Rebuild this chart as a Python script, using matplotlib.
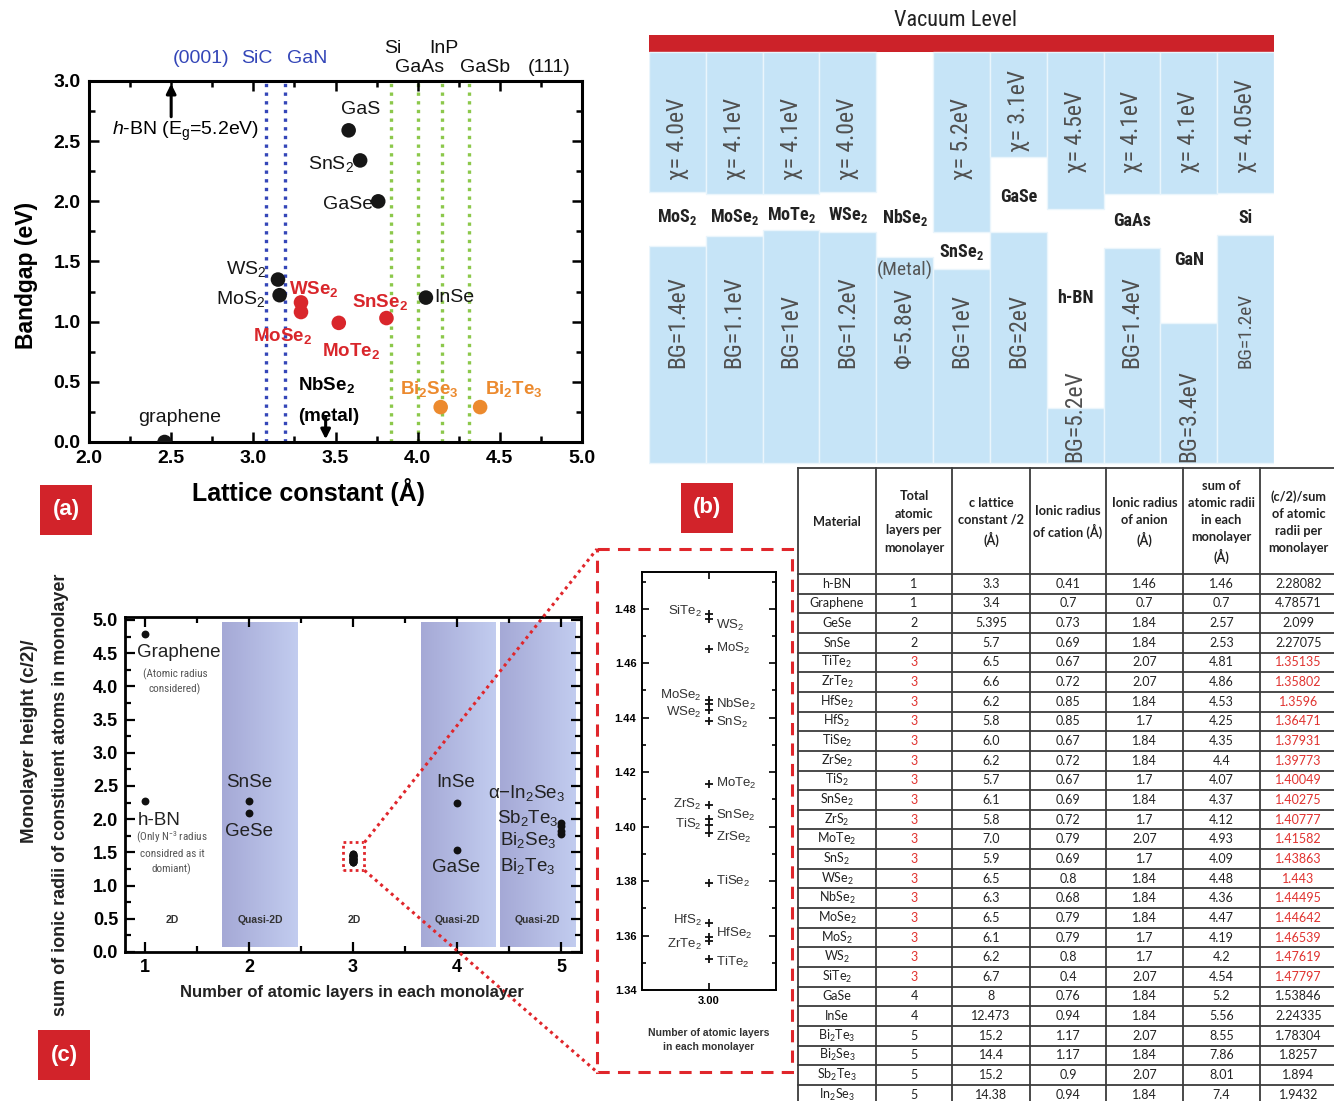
import numpy as np
import matplotlib
matplotlib.use('Agg')
import matplotlib.pyplot as plt
from matplotlib import font_manager
from matplotlib.patches import Rectangle
from matplotlib.colors import LinearSegmentedColormap
from matplotlib.ticker import MultipleLocator, FixedLocator


def pick(*names):
    for n in names:
        try:
            font_manager.findfont(font_manager.FontProperties(family=n), fallback_to_default=False)
            return n
        except Exception:
            pass
    return 'DejaVu Sans'


SANS = pick('Liberation Sans', 'Arial', 'DejaVu Sans')
NARROW = pick('Liberation Sans Narrow', 'Roboto Condensed', 'Open Sans Condensed')
IS_NARROW = NARROW != 'DejaVu Sans'
if not IS_NARROW:
    NARROW = SANS
TABLE = pick('Lato', 'Open Sans', SANS)

plt.rcParams['font.family'] = [SANS, 'DejaVu Sans']
plt.rcParams['mathtext.default'] = 'regular'
plt.rcParams['mathtext.fontset'] = 'custom'
plt.rcParams['mathtext.rm'] = SANS
plt.rcParams['mathtext.it'] = SANS + ':italic'
plt.rcParams['mathtext.bf'] = SANS + ':bold'

# ---------------- data: panel (a) ----------------
a_names = ['graphene', 'GaS', 'SnS$_2$', 'GaSe', 'WS$_2$', 'MoS$_2$', 'InSe',
           'WSe$_2$', 'MoSe$_2$', 'MoTe$_2$', 'SnSe$_2$', 'Bi$_2$Se$_3$', 'Bi$_2$Te$_3$']
a_lattice = [2.46, 3.58, 3.65, 3.76, 3.15, 3.16, 4.05, 3.29, 3.29, 3.52, 3.81, 4.14, 4.38]
a_gap = [0.0, 2.59, 2.34, 2.00, 1.35, 1.22, 1.20, 1.16, 1.08, 0.99, 1.03, 0.29, 0.29]
a_group = ['k', 'k', 'k', 'k', 'k', 'k', 'k', 'r', 'r', 'r', 'r', 'o', 'o']
sub_hex_names = ['(0001)', 'SiC', 'GaN']
sub_hex_lattice = [3.08, 3.19]
sub_cub_names = ['Si', 'GaAs', 'InP', 'GaSb', '(111)']
sub_cub_lattice = [3.84, 4.00, 4.15, 4.31]
hbn_lattice, nbse2_lattice = 2.50, 3.44

# ---------------- data: panel (b) ----------------
b_materials = ['MoS$_2$', 'MoSe$_2$', 'MoTe$_2$', 'WSe$_2$', 'NbSe$_2$', 'SnSe$_2$',
               'GaSe', 'h-BN', 'GaAs', 'GaN', 'Si']
b_chi = ['χ= 4.0eV', 'χ= 4.1eV', 'χ= 4.1eV', 'χ= 4.0eV', '', 'χ= 5.2eV',
         'χ= 3.1eV', 'χ= 4.5eV', 'χ= 4.1eV', 'χ= 4.1eV', 'χ= 4.05eV']
b_gap = ['BG=1.4eV', 'BG=1.1eV', 'BG=1eV', 'BG=1.2eV', 'Φ=5.8eV', 'BG=1eV',
         'BG=2eV', 'BG=5.2eV', 'BG=1.4eV', 'BG=3.4eV', 'BG=1.2eV']
# band edges in diagram depth units (vacuum bar bottom = 52, diagram bottom = 463)
b_cb = [192, 194, 194, 192, np.nan, 232, 157, 209, 194, 194, 193]
b_vb = [246, 236, 230, 232, 257, 269, 232, 408, 248, 323, 235]

# ---------------- data: table / panel (c) ----------------
t_material = ['h-BN', 'Graphene', 'GeSe', 'SnSe', 'TiTe$_2$', 'ZrTe$_2$', 'HfSe$_2$', 'HfS$_2$',
              'TiSe$_2$', 'ZrSe$_2$', 'TiS$_2$', 'SnSe$_2$', 'ZrS$_2$', 'MoTe$_2$', 'SnS$_2$',
              'WSe$_2$', 'NbSe$_2$', 'MoSe$_2$', 'MoS$_2$', 'WS$_2$', 'SiTe$_2$', 'GaSe', 'InSe',
              'Bi$_2$Te$_3$', 'Bi$_2$Se$_3$', 'Sb$_2$Te$_3$', 'In$_2$Se$_3$']
t_layers = [1, 1, 2, 2, 3, 3, 3, 3, 3, 3, 3, 3, 3, 3, 3, 3, 3, 3, 3, 3, 3, 4, 4, 5, 5, 5, 5]
t_c_half = ['3.3', '3.4', '5.395', '5.7', '6.5', '6.6', '6.2', '5.8', '6.0', '6.2', '5.7', '6.1',
            '5.8', '7.0', '5.9', '6.5', '6.3', '6.5', '6.1', '6.2', '6.7', '8', '12.473', '15.2',
            '14.4', '15.2', '14.38']
t_cation = ['0.41', '0.7', '0.73', '0.69', '0.67', '0.72', '0.85', '0.85', '0.67', '0.72', '0.67',
            '0.69', '0.72', '0.79', '0.69', '0.8', '0.68', '0.79', '0.79', '0.8', '0.4', '0.76',
            '0.94', '1.17', '1.17', '0.9', '0.94']
t_anion = ['1.46', '0.7', '1.84', '1.84', '2.07', '2.07', '1.84', '1.7', '1.84', '1.84', '1.7',
           '1.84', '1.7', '2.07', '1.7', '1.84', '1.84', '1.84', '1.7', '1.7', '2.07', '1.84',
           '1.84', '2.07', '1.84', '2.07', '1.84']
t_sum = ['1.46', '0.7', '2.57', '2.53', '4.81', '4.86', '4.53', '4.25', '4.35', '4.4', '4.07',
         '4.37', '4.12', '4.93', '4.09', '4.48', '4.36', '4.47', '4.19', '4.2', '4.54', '5.2',
         '5.56', '8.55', '7.86', '8.01', '7.4']
t_ratio = ['2.28082', '4.78571', '2.099', '2.27075', '1.35135', '1.35802', '1.3596', '1.36471',
           '1.37931', '1.39773', '1.40049', '1.40275', '1.40777', '1.41582', '1.43863', '1.443',
           '1.44495', '1.44642', '1.46539', '1.47619', '1.47797', '1.53846', '2.24335', '1.78304',
           '1.8257', '1.894', '1.9432']
t_header = ['Material', 'Total\natomic\nlayers per\nmonolayer', 'c lattice\nconstant /2\n(Å)',
            'Ionic radius\nof cation (Å)', 'Ionic radius\nof anion\n(Å)',
            'sum of\natomic radii\nin each\nmonolayer\n(Å)', '(c/2)/sum\nof atomic\nradii per\nmonolayer']
c_regions = [(1.74, 2.47), (3.65, 4.37), (4.41, 5.14)]
c_region_labels = ['2D', 'Quasi-2D', '2D', 'Quasi-2D', 'Quasi-2D']
c_region_label_x = [1.26, 2.11, 3.01, 4.0, 4.77]

# ---------------- figure ----------------
W, H = 1334, 1101
fig = plt.figure(figsize=(W / 100, H / 100), dpi=100)


def rect(x0, y0, x1, y1):
    return [x0 / W, 1 - y1 / H, (x1 - x0) / W, (y1 - y0) / H]


def bold_ticks(ax, size):
    for t in ax.get_xticklabels() + ax.get_yticklabels():
        t.set_fontweight('bold')
        t.set_fontsize(size)


RED = '#d2232a'
colmap = {'k': '#161616', 'r': '#d9262b', 'o': '#ec8a2e'}

# ================= panel (a) =================
ax = fig.add_axes(rect(89, 81, 582, 442))
ax.set_xlim(2.0, 5.0)
ax.set_ylim(0, 3.0)
for xv in sub_hex_lattice:
    ax.axvline(xv, color='#3446b8', ls=(0, (1, 1.6)), lw=2.4, zorder=1)
for xv in sub_cub_lattice:
    ax.axvline(xv, color='#8cc84b', ls=(0, (1, 1.6)), lw=2.4, zorder=1)
ax.scatter(a_lattice, a_gap, s=110, c=[colmap[g] for g in a_group], zorder=3, linewidths=0)
ax.xaxis.set_major_locator(MultipleLocator(0.5))
ax.xaxis.set_minor_locator(MultipleLocator(0.25))
ax.yaxis.set_major_locator(MultipleLocator(0.5))
ax.yaxis.set_minor_locator(MultipleLocator(0.25))
ax.tick_params(which='both', direction='in', top=True, right=True, width=1.8)
ax.tick_params(which='major', length=7, pad=6)
ax.tick_params(which='minor', length=4)
for s in ax.spines.values():
    s.set_linewidth(2.2)
ax.xaxis.set_major_formatter(matplotlib.ticker.FormatStrFormatter('%.1f'))
ax.yaxis.set_major_formatter(matplotlib.ticker.FormatStrFormatter('%.1f'))
bold_ticks(ax, 14)

a_lbl = [(2.55, 0.20, 'center'), (3.65, 2.76, 'center'), (3.61, 2.31, 'right'),
         (3.73, 1.97, 'right'), (3.08, 1.44, 'right'), (3.07, 1.19, 'right'),
         (4.10, 1.20, 'left'), (3.22, 1.27, 'left'), (3.18, 0.88, 'center'),
         (3.42, 0.76, 'left'), (3.60, 1.16, 'left'), (3.89, 0.44, 'left'), (4.41, 0.44, 'left')]
for name, g, (lx, ly, ha) in zip(a_names, a_group, a_lbl):
    ax.text(lx, ly, name, ha=ha, va='center', fontsize=14 if g == 'k' else 13.5,
            color=colmap[g], fontweight='normal' if g == 'k' else 'bold', zorder=4)
ax.text(3.27, 0.47, 'NbSe$_2$', ha='left', va='center', fontsize=13.5, fontweight='bold')
ax.text(3.27, 0.21, '(metal)', ha='left', va='center', fontsize=13.5, fontweight='bold')
ax.text(2.14, 2.58, '$\\mathit{h}$-BN (E$_g$=5.2eV)', ha='left', va='center', fontsize=14)
ax.annotate('', xy=(hbn_lattice, 3.0), xytext=(hbn_lattice, 2.68),
            arrowprops=dict(arrowstyle='-|>', color='k', lw=2.2, mutation_scale=14), annotation_clip=False)
ax.annotate('', xy=(nbse2_lattice, 0.0), xytext=(nbse2_lattice, 0.23),
            arrowprops=dict(arrowstyle='-|>', color='k', lw=2.2, mutation_scale=14), annotation_clip=False)
# substrate labels above the frame
for txt, x, y in zip(sub_hex_names, [2.68, 3.02, 3.33], [3.19, 3.19, 3.19]):
    ax.text(x, y, txt, color='#3446b8', fontsize=14, ha='center', va='center', clip_on=False)
for txt, x, y in zip(sub_cub_names, [3.85, 4.01, 4.16, 4.41, 4.80], [3.27, 3.11, 3.27, 3.11, 3.11]):
    ax.text(x, y, txt, color='#111', fontsize=14, ha='center', va='center', clip_on=False)

# ================= panel (b) =================
bx0, bx1 = 649, 1274
axb = fig.add_axes(rect(bx0, 5, bx1, 465))
axb.set_xlim(0, len(b_materials))
axb.set_ylim(465, 5)
axb.axis('off')
BLUE = '#c6e4f7'
axb.add_patch(Rectangle((0, 35), len(b_materials), 17, facecolor='#cc2229', edgecolor='none'))
axb.text(len(b_materials) / 2 - 0.1, 21, 'Vacuum Level', ha='center', va='center',
         fontsize=16 if IS_NARROW else 13.5, family=NARROW, color='#222')
name_y = [217, 217, 215, 215, 217, 252, 197, 298, 221, 260, 218]
chi_start = [180, 180, 180, 180, 180, 180, 152, 173, 173, 173, 173]
bg_start = [368, 368, 368, 368, 368, 368, 368, 462, 368, 462, 368]
bg_scale = [1, 1, 1, 1, 1, 1, 1, 1, 1, 1, 0.82]
rot_fs = 17 if IS_NARROW else 14
name_fs = 13 if IS_NARROW else 11
for i, m in enumerate(b_materials):
    if not np.isnan(b_cb[i]):
        axb.bar(i + 0.5, b_cb[i] - 52, bottom=52, width=1.0, color=BLUE, edgecolor='#eaf5fc', lw=1)
    axb.bar(i + 0.5, 463 - b_vb[i], bottom=b_vb[i], width=1.0, color=BLUE, edgecolor='#eaf5fc', lw=1)
    axb.text(i + 0.5, name_y[i], m, ha='center', va='center', fontsize=name_fs,
             fontweight='bold', family=NARROW, color='#222')
    if b_chi[i]:
        axb.text(i + 0.5, chi_start[i], b_chi[i], rotation=90, rotation_mode='anchor',
                 ha='left', va='center', fontsize=rot_fs, family=NARROW, color='#505050')
    axb.text(i + 0.5, bg_start[i], b_gap[i], rotation=90, rotation_mode='anchor',
             ha='left', va='center', fontsize=rot_fs * bg_scale[i], family=NARROW, color='#505050')
axb.text(4.5, 270, '(Metal)', ha='center', va='center', fontsize=name_fs + 1, family=NARROW, color='#555')

# ================= panel (c) =================
axc = fig.add_axes(rect(125, 617, 581, 952))
grad = LinearSegmentedColormap.from_list('g', ['#a5a9d6', '#c2ccef'])
gimg = np.linspace(0, 1, 64).reshape(1, -1)
for (r0, r1) in c_regions:
    axc.imshow(gimg, cmap=grad, extent=(r0, r1, 0.07, 4.96), aspect='auto', zorder=0,
               interpolation='bilinear')
c_x = np.array(t_layers, dtype=float)
c_y = np.array([float(v) for v in t_ratio])
axc.scatter(c_x, c_y, s=32, color='#111', zorder=3, linewidths=0)
axc.set_xlim(0.81, 5.19)
axc.set_ylim(0, 5.045)
axc.xaxis.set_major_locator(MultipleLocator(1))
axc.xaxis.set_minor_locator(MultipleLocator(0.5))
axc.yaxis.set_major_locator(MultipleLocator(0.5))
axc.yaxis.set_minor_locator(MultipleLocator(0.25))
axc.yaxis.set_major_formatter(matplotlib.ticker.FormatStrFormatter('%.1f'))
axc.tick_params(which='both', direction='in', top=True, right=True, width=1.6)
axc.tick_params(which='major', length=7, pad=5)
axc.tick_params(which='minor', length=4)
for s in axc.spines.values():
    s.set_linewidth(2)
bold_ticks(axc, 13)
for lab, lx in zip(c_region_labels, c_region_label_x):
    axc.text(lx, 0.48, lab, ha='center', va='center', fontsize=7.5, fontweight='bold', color='#333')
axc.text(0.93, 4.51, 'Graphene', ha='left', va='center', fontsize=13.5, color='#222')
axc.text(1.29, 4.07, '(Atomic radius\nconsidered)', ha='center', va='center', fontsize=8,
         color='#555', family=NARROW, linespacing=1.5)
axc.text(0.93, 1.98, 'h-BN', ha='left', va='center', fontsize=13.5, color='#222')
axc.text(1.26, 1.5, '(Only N$^{-3}$ radius\nconsidred as it\ndomiant)', ha='center', va='center',
         fontsize=8, color='#555', family=NARROW, linespacing=1.5)
axc.text(2.0, 2.55, 'SnSe', ha='center', va='center', fontsize=13.5, color='#222')
axc.text(2.0, 1.82, 'GeSe', ha='center', va='center', fontsize=13.5, color='#222')
axc.text(3.99, 2.55, 'InSe', ha='center', va='center', fontsize=13.5, color='#222')
axc.text(3.99, 1.27, 'GaSe', ha='center', va='center', fontsize=13.5, color='#222')
axc.text(4.30, 2.40, 'α−In$_2$Se$_3$', ha='left', va='center', fontsize=13.5, color='#222')
axc.text(4.38, 2.02, 'Sb$_2$Te$_3$', ha='left', va='center', fontsize=13.5, color='#222')
axc.text(4.41, 1.68, 'Bi$_2$Se$_3$', ha='left', va='center', fontsize=13.5, color='#222')
axc.text(4.41, 1.30, 'Bi$_2$Te$_3$', ha='left', va='center', fontsize=13.5, color='#222')
zx0, zx1, zy0, zy1 = 2.90, 3.11, 1.23, 1.65
axc.add_patch(Rectangle((zx0, zy0), zx1 - zx0, zy1 - zy0, fill=False, edgecolor='#e0262b',
                        ls=(0, (1, 1.2)), lw=2, zorder=5))

# ================= inset =================
axi = fig.add_axes(rect(642, 572, 776, 990))
sel = [i for i, l in enumerate(t_layers) if l == 3]
ix = [float(t_layers[i]) for i in sel]
iy = [float(t_ratio[i]) for i in sel]
axi.plot(ix, iy, '+', color='#111', ms=6, mew=1.3, ls='none')
axi.set_xlim(2.9, 3.1)
axi.set_ylim(1.34, 1.4935)
axi.xaxis.set_major_locator(FixedLocator([3.0]))
axi.xaxis.set_major_formatter(matplotlib.ticker.FormatStrFormatter('%.2f'))
axi.yaxis.set_major_locator(MultipleLocator(0.02))
axi.yaxis.set_minor_locator(MultipleLocator(0.01))
axi.yaxis.set_major_formatter(matplotlib.ticker.FormatStrFormatter('%.2f'))
axi.tick_params(which='both', direction='in', top=True, right=True, width=1.2)
axi.tick_params(which='major', length=5, pad=4)
axi.tick_params(which='minor', length=3)
for s in axi.spines.values():
    s.set_linewidth(1.4)
bold_ticks(axi, 8)
side = {'TiTe$_2$': ('r', -0.0012), 'ZrTe$_2$': ('l', -0.0012), 'HfSe$_2$': ('r', 0.0012),
        'HfS$_2$': ('l', 0.0008), 'TiSe$_2$': ('r', 0.0005), 'ZrSe$_2$': ('r', -0.0018),
        'TiS$_2$': ('l', 0.0003), 'SnSe$_2$': ('r', 0.0012), 'ZrS$_2$': ('l', 0.0005),
        'MoTe$_2$': ('r', 0.0), 'SnS$_2$': ('r', -0.0005), 'WSe$_2$': ('l', -0.0012),
        'NbSe$_2$': ('r', 0.0), 'MoSe$_2$': ('l', 0.0018), 'MoS$_2$': ('r', 0.0),
        'WS$_2$': ('r', -0.0022), 'SiTe$_2$': ('l', 0.0012)}
for i in sel:
    nm = t_material[i]
    sd, dy = side[nm]
    y = float(t_ratio[i]) + dy
    if sd == 'r':
        axi.text(3.011, y, nm, ha='left', va='center', fontsize=9.5, color='#333')
    else:
        axi.text(2.989, y, nm, ha='right', va='center', fontsize=9.5, color='#333')

# ================= table =================
axt = fig.add_axes(rect(796, 466, 1334, 1101))
axt.set_xlim(796, 1334)
axt.set_ylim(1101, 466)
axt.axis('off')
col_edges = [798, 876, 952, 1030, 1106, 1183, 1260, 1337]
head_top, head_bot, row_h = 468, 574, 19.65
lc = '#3c3c3c'
for xe in col_edges[:-1]:
    axt.plot([xe, xe], [head_top, 1101], color=lc, lw=1.3, clip_on=False)
axt.plot([col_edges[0], 1334], [head_top, head_top], color=lc, lw=1.3, clip_on=False)
n_rows = len(t_material)
for k in range(n_rows):
    yb = head_bot + k * row_h
    axt.plot([col_edges[0], 1334], [yb, yb], color=lc, lw=1.3, clip_on=False)
cx = [(col_edges[j] + col_edges[j + 1]) / 2 for j in range(7)]
for j, htxt in enumerate(t_header):
    axt.text(cx[j], (head_top + head_bot) / 2 + 1, htxt, ha='center', va='center', fontsize=9.2,
             fontweight='bold', family=TABLE, color='#222', linespacing=1.5)
for k in range(n_rows):
    yc = head_bot + (k + 0.5) * row_h
    red = t_layers[k] == 3
    vals = [t_material[k], str(t_layers[k]), t_c_half[k], t_cation[k], t_anion[k], t_sum[k], t_ratio[k]]
    for j, v in enumerate(vals):
        col = '#e0322f' if (red and j in (1, 6)) else '#222'
        axt.text(cx[j], yc, v, ha='center', va='center', fontsize=9, family=TABLE, color=col)

# ================= overlay (figure pixels) =================
axo = fig.add_axes([0, 0, 1, 1])
axo.set_xlim(0, W)
axo.set_ylim(H, 0)
axo.axis('off')
axo.set_zorder(20)
axo.patch.set_visible(False)
for lbl, (x0, y0) in zip(['(a)', '(b)', '(c)'], [(40, 485), (681, 483), (38, 1030)]):
    axo.add_patch(Rectangle((x0, y0), 52, 50, facecolor=RED, edgecolor='none'))
    axo.text(x0 + 26, y0 + 25, lbl, ha='center', va='center', color='white', fontsize=16,
             fontweight='bold')
axo.text(308, 492, 'Lattice constant (Å)', ha='center', va='center', fontsize=18, fontweight='bold')
axo.text(27, 275, 'Bandgap (eV)', ha='center', va='center', rotation=90, fontsize=16.5, fontweight='bold')
axo.text(352, 993, 'Number of atomic layers in each monolayer', ha='center', va='center',
         fontsize=12, fontweight='bold', color='#222')
axo.text(30, 741, 'Monolayer height (c/2)/', ha='center', va='center', rotation=90,
         fontsize=13.5, fontweight='bold', color='#222')
axo.text(61, 795, 'sum of ionic radii of constiuent atoms in monolayer', ha='center', va='center',
         rotation=90, fontsize=13, fontweight='bold', color='#222')
axo.text(709, 1040, 'Number of atomic layers\nin each monolayer', ha='center', va='center',
         fontsize=7.5, fontweight='bold', color='#333', linespacing=1.4)
# dashed zoom box
axo.add_patch(Rectangle((597, 549), 195, 523, fill=False, edgecolor='#e0262b', lw=2.2,
                        ls=(0, (4, 2.7))))
# connecting dotted lines from zoom rectangle in panel (c)
fig.canvas.draw()
p_top = axc.transData.transform((zx1, zy1))
p_bot = axc.transData.transform((zx1, zy0))
axo.plot([p_top[0], 597], [H - p_top[1], 549], color='#e0262b', lw=2.2, ls=(0, (1, 1.3)))
axo.plot([p_bot[0], 597], [H - p_bot[1], 1072], color='#e0262b', lw=2.2, ls=(0, (1, 1.3)))

fig.savefig('out.png', dpi=100)
